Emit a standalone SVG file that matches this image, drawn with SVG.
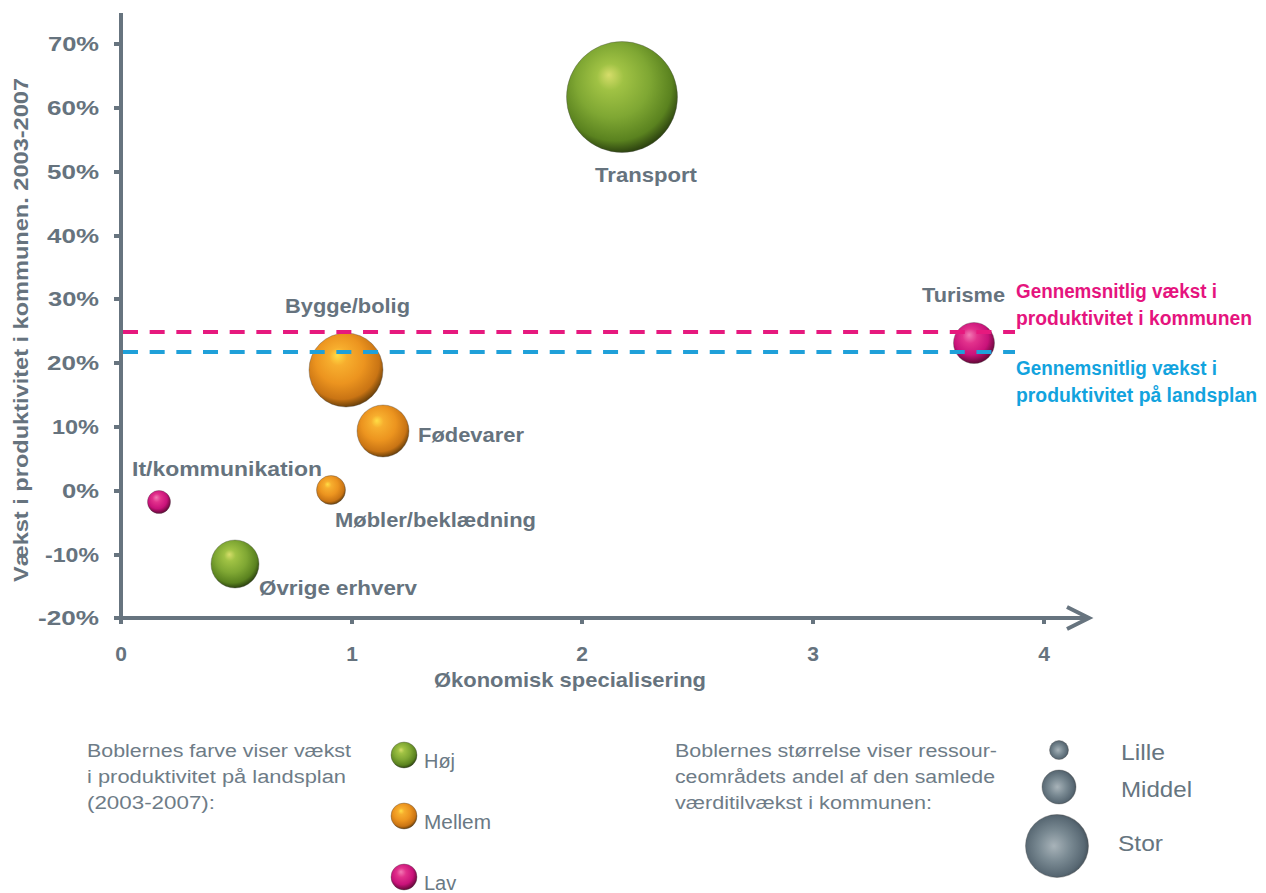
<svg xmlns="http://www.w3.org/2000/svg" width="1266" height="893" viewBox="0 0 1266 893">
  <defs>
    <radialGradient id="gGreen" cx="0.45" cy="0.4" r="0.6" fx="0.38" fy="0.3">
      <stop offset="0" stop-color="#d6dd6a"/>
      <stop offset="0.2" stop-color="#a0c244"/>
      <stop offset="0.55" stop-color="#7fa733"/>
      <stop offset="0.85" stop-color="#5a821f"/>
      <stop offset="1" stop-color="#2e4510"/>
    </radialGradient>
    <radialGradient id="gOrange" cx="0.45" cy="0.4" r="0.6" fx="0.38" fy="0.3">
      <stop offset="0" stop-color="#ffde45"/>
      <stop offset="0.2" stop-color="#f7ae2e"/>
      <stop offset="0.55" stop-color="#ec941f"/>
      <stop offset="0.85" stop-color="#c97414"/>
      <stop offset="1" stop-color="#6e420a"/>
    </radialGradient>
    <radialGradient id="gPink" cx="0.45" cy="0.4" r="0.6" fx="0.38" fy="0.3">
      <stop offset="0" stop-color="#f27ab4"/>
      <stop offset="0.3" stop-color="#e2318c"/>
      <stop offset="0.7" stop-color="#c9127a"/>
      <stop offset="1" stop-color="#640838"/>
    </radialGradient>
    <radialGradient id="gGray" cx="0.47" cy="0.5" r="0.55" fx="0.45" fy="0.5">
      <stop offset="0" stop-color="#a8b3b9"/>
      <stop offset="0.45" stop-color="#7a8a93"/>
      <stop offset="0.85" stop-color="#586873"/>
      <stop offset="1" stop-color="#434f58"/>
    </radialGradient>
    <style>
      .axis { stroke: #67747f; stroke-width: 4; fill: none; }
      .tick { stroke: #67747f; stroke-width: 4; }
      .num { font-family: "Liberation Sans", Arial, sans-serif; font-weight: bold; font-size: 21px; fill: #66737e; }
      .lbl { font-family: "Liberation Sans", Arial, sans-serif; font-weight: bold; font-size: 21px; fill: #66737e; }
      .note { font-family: "Liberation Sans", Arial, sans-serif; font-size: 18px; fill: #6e7c87; }
      .leg { font-family: "Liberation Sans", Arial, sans-serif; font-size: 20px; fill: #6a7984; }
      .leg2 { font-family: "Liberation Sans", Arial, sans-serif; font-size: 21.5px; fill: #66757f; }
      .ref { font-family: "Liberation Sans", Arial, sans-serif; font-weight: bold; font-size: 19.5px; }
      .sphere { stroke: #4a4a4a; stroke-opacity: 0.35; stroke-width: 1; }
      .dash { stroke-width: 4; stroke-dasharray: 15 11.67; fill: none; }
    </style>
  </defs>
  <rect width="1266" height="893" fill="#ffffff"/>

  <!-- axes -->
  <g id="axes">
    <line class="axis" x1="121" y1="13" x2="121" y2="620"/>
    <line class="axis" x1="114" y1="618" x2="1088" y2="618"/>
    <polyline class="axis" points="1067,607 1089,618 1067,629" stroke-linejoin="miter"/>
    <g class="tick">
      <line x1="114" y1="44" x2="121" y2="44"/>
      <line x1="114" y1="108" x2="121" y2="108"/>
      <line x1="114" y1="172" x2="121" y2="172"/>
      <line x1="114" y1="236" x2="121" y2="236"/>
      <line x1="114" y1="299" x2="121" y2="299"/>
      <line x1="114" y1="363" x2="121" y2="363"/>
      <line x1="114" y1="427" x2="121" y2="427"/>
      <line x1="114" y1="491" x2="121" y2="491"/>
      <line x1="114" y1="555" x2="121" y2="555"/>
      <line x1="121" y1="618" x2="121" y2="624"/>
      <line x1="352" y1="618" x2="352" y2="624"/>
      <line x1="582" y1="618" x2="582" y2="624"/>
      <line x1="813" y1="618" x2="813" y2="624"/>
      <line x1="1044" y1="618" x2="1044" y2="624"/>
    </g>
    <g class="num">
      <text x="48" y="51" textLength="51" lengthAdjust="spacingAndGlyphs">70%</text>
      <text x="47" y="115" textLength="52" lengthAdjust="spacingAndGlyphs">60%</text>
      <text x="47" y="179" textLength="52" lengthAdjust="spacingAndGlyphs">50%</text>
      <text x="47" y="243" textLength="52" lengthAdjust="spacingAndGlyphs">40%</text>
      <text x="48" y="306" textLength="51" lengthAdjust="spacingAndGlyphs">30%</text>
      <text x="47" y="370" textLength="52" lengthAdjust="spacingAndGlyphs">20%</text>
      <text x="52" y="434" textLength="47" lengthAdjust="spacingAndGlyphs">10%</text>
      <text x="62" y="498" textLength="37" lengthAdjust="spacingAndGlyphs">0%</text>
      <text x="45" y="562" textLength="54" lengthAdjust="spacingAndGlyphs">-10%</text>
      <text x="38" y="625" textLength="61" lengthAdjust="spacingAndGlyphs">-20%</text>
      <text x="121" y="661" text-anchor="middle">0</text>
      <text x="352" y="661" text-anchor="middle">1</text>
      <text x="582" y="661" text-anchor="middle">2</text>
      <text x="813" y="661" text-anchor="middle">3</text>
      <text x="1044" y="661" text-anchor="middle">4</text>
    </g>
    <text class="lbl" x="434" y="687" textLength="272" lengthAdjust="spacingAndGlyphs">Økonomisk specialisering</text>
    <text class="lbl" transform="rotate(-90)" x="-582" y="28" font-size="22" textLength="504" lengthAdjust="spacingAndGlyphs">Vækst i produktivitet i kommunen. 2003-2007</text>
  </g>

  <!-- bubbles -->
  <g id="transport">
    <circle class="sphere" cx="622" cy="97" r="55.5" fill="url(#gGreen)"/>
    <text class="lbl" x="595" y="182" textLength="102" lengthAdjust="spacingAndGlyphs">Transport</text>
  </g>
  <g id="bygge-bolig">
    <circle class="sphere" cx="346" cy="370" r="37" fill="url(#gOrange)"/>
    <text class="lbl" x="285" y="313" textLength="125" lengthAdjust="spacingAndGlyphs">Bygge/bolig</text>
  </g>
  <g id="foedevarer">
    <circle class="sphere" cx="383" cy="431" r="26" fill="url(#gOrange)"/>
    <text class="lbl" x="418" y="442" textLength="106" lengthAdjust="spacingAndGlyphs">Fødevarer</text>
  </g>
  <g id="moebler-beklaedning">
    <circle class="sphere" cx="331" cy="490" r="14.5" fill="url(#gOrange)"/>
    <text class="lbl" x="335" y="527" textLength="201" lengthAdjust="spacingAndGlyphs">Møbler/beklædning</text>
  </g>
  <g id="it-kommunikation">
    <circle class="sphere" cx="159" cy="502" r="11.5" fill="url(#gPink)"/>
    <text class="lbl" x="132" y="476" textLength="190" lengthAdjust="spacingAndGlyphs">It/kommunikation</text>
  </g>
  <g id="oevrige-erhverv">
    <circle class="sphere" cx="235" cy="564" r="24" fill="url(#gGreen)"/>
    <text class="lbl" x="259" y="595" textLength="158" lengthAdjust="spacingAndGlyphs">Øvrige erhverv</text>
  </g>
  <g id="turisme">
    <circle class="sphere" cx="974" cy="343" r="20.5" fill="url(#gPink)"/>
    <text class="lbl" x="922" y="302" textLength="83" lengthAdjust="spacingAndGlyphs">Turisme</text>
  </g>

  <!-- reference lines -->
  <g id="connectors">
    <line class="dash" x1="123" y1="332" x2="1015" y2="332" stroke="#e6197e"/>
    <line class="dash" x1="123" y1="352" x2="1015" y2="352" stroke="#1fa0d9"/>
  </g>
  <g id="ref-labels" class="ref">
    <text x="1016" y="298" fill="#e5147e" textLength="201" lengthAdjust="spacingAndGlyphs">Gennemsnitlig vækst i</text>
    <text x="1016" y="325" fill="#e5147e" textLength="236" lengthAdjust="spacingAndGlyphs">produktivitet i kommunen</text>
    <text x="1016" y="375" fill="#12a3de" textLength="201" lengthAdjust="spacingAndGlyphs">Gennemsnitlig vækst i</text>
    <text x="1016" y="402" fill="#12a3de" textLength="241" lengthAdjust="spacingAndGlyphs">produktivitet på landsplan</text>
  </g>

  <!-- colour legend -->
  <g id="legend-colour">
    <g class="note">
      <text x="87" y="757" textLength="264" lengthAdjust="spacingAndGlyphs">Boblernes farve viser vækst</text>
      <text x="87" y="783" textLength="259" lengthAdjust="spacingAndGlyphs">i produktivitet på landsplan</text>
      <text x="87" y="809" textLength="128" lengthAdjust="spacingAndGlyphs">(2003-2007):</text>
    </g>
    <g id="legend-hoej">
      <circle class="sphere" cx="404" cy="755" r="13" fill="url(#gGreen)"/>
      <text class="leg" x="424" y="768" textLength="31" lengthAdjust="spacingAndGlyphs">Høj</text>
    </g>
    <g id="legend-mellem">
      <circle class="sphere" cx="404" cy="816" r="13" fill="url(#gOrange)"/>
      <text class="leg" x="424" y="829" textLength="67" lengthAdjust="spacingAndGlyphs">Mellem</text>
    </g>
    <g id="legend-lav">
      <circle class="sphere" cx="404" cy="877" r="13" fill="url(#gPink)"/>
      <text class="leg" x="424" y="890">Lav</text>
    </g>
  </g>

  <!-- size legend -->
  <g id="legend-size">
    <g class="note">
      <text x="675" y="757" textLength="322" lengthAdjust="spacingAndGlyphs">Boblernes størrelse viser ressour-</text>
      <text x="675" y="783" textLength="320" lengthAdjust="spacingAndGlyphs">ceområdets andel af den samlede</text>
      <text x="675" y="809" textLength="257" lengthAdjust="spacingAndGlyphs">værditilvækst i kommunen:</text>
    </g>
    <g id="legend-lille">
      <circle class="sphere" cx="1059" cy="750" r="9.5" fill="url(#gGray)"/>
      <text class="leg2" x="1121" y="760" textLength="44" lengthAdjust="spacingAndGlyphs">Lille</text>
    </g>
    <g id="legend-middel">
      <circle class="sphere" cx="1059" cy="787" r="17" fill="url(#gGray)"/>
      <text class="leg2" x="1121" y="797" textLength="71" lengthAdjust="spacingAndGlyphs">Middel</text>
    </g>
    <g id="legend-stor">
      <circle class="sphere" cx="1057" cy="846" r="31.5" fill="url(#gGray)"/>
      <text class="leg2" x="1118" y="851" textLength="45" lengthAdjust="spacingAndGlyphs">Stor</text>
    </g>
  </g>
</svg>
